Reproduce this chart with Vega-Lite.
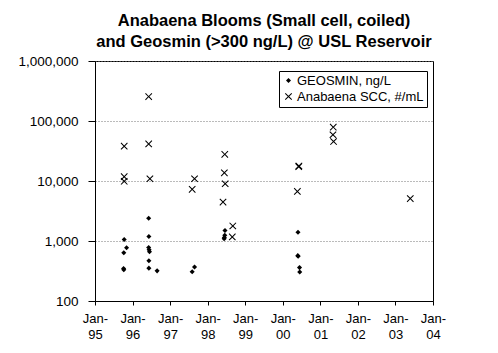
{
  "$schema": "https://vega.github.io/schema/vega-lite/v6.json",
  "autosize": {"type": "none"},
  "padding": {"left": 95, "top": 61, "right": 65, "bottom": 52},
  "width": 338,
  "height": 240,
  "background": "white",
  "title": {
    "text": ["Anabaena Blooms (Small cell, coiled)", "and Geosmin (>300 ng/L) @ USL Reservoir"],
    "font": "Liberation Sans",
    "fontSize": 16.5,
    "fontWeight": "bold",
    "color": "black",
    "lineHeight": 21,
    "offset": 4,
    "anchor": "middle"
  },
  "data": {
    "values": [
      {"date": "1995-10-12", "series": "Anabaena SCC, #/mL", "value": 38000},
      {"date": "1995-10-12", "series": "Anabaena SCC, #/mL", "value": 11800},
      {"date": "1995-10-12", "series": "Anabaena SCC, #/mL", "value": 9900},
      {"date": "1996-06-06", "series": "Anabaena SCC, #/mL", "value": 255000},
      {"date": "1996-06-06", "series": "Anabaena SCC, #/mL", "value": 41500},
      {"date": "1996-06-18", "series": "Anabaena SCC, #/mL", "value": 10900},
      {"date": "1997-08-26", "series": "Anabaena SCC, #/mL", "value": 10900},
      {"date": "1997-08-03", "series": "Anabaena SCC, #/mL", "value": 7270},
      {"date": "1998-06-16", "series": "Anabaena SCC, #/mL", "value": 27800},
      {"date": "1998-06-12", "series": "Anabaena SCC, #/mL", "value": 13700},
      {"date": "1998-06-20", "series": "Anabaena SCC, #/mL", "value": 9000},
      {"date": "1998-05-30", "series": "Anabaena SCC, #/mL", "value": 4450},
      {"date": "1998-09-02", "series": "Anabaena SCC, #/mL", "value": 1780},
      {"date": "1998-08-28", "series": "Anabaena SCC, #/mL", "value": 1170},
      {"date": "2000-06-04", "series": "Anabaena SCC, #/mL", "value": 17300},
      {"date": "2000-06-06", "series": "Anabaena SCC, #/mL", "value": 17800},
      {"date": "2000-05-22", "series": "Anabaena SCC, #/mL", "value": 6700},
      {"date": "2001-05-06", "series": "Anabaena SCC, #/mL", "value": 79000},
      {"date": "2001-05-03", "series": "Anabaena SCC, #/mL", "value": 59000},
      {"date": "2001-05-09", "series": "Anabaena SCC, #/mL", "value": 45500},
      {"date": "2003-05-25", "series": "Anabaena SCC, #/mL", "value": 5100},
      {"date": "1995-10-12", "series": "GEOSMIN, ng/L", "value": 1060},
      {"date": "1995-11-04", "series": "GEOSMIN, ng/L", "value": 773},
      {"date": "1995-10-08", "series": "GEOSMIN, ng/L", "value": 637},
      {"date": "1995-10-06", "series": "GEOSMIN, ng/L", "value": 348},
      {"date": "1995-10-08", "series": "GEOSMIN, ng/L", "value": 331},
      {"date": "1996-06-06", "series": "GEOSMIN, ng/L", "value": 2400},
      {"date": "1996-06-08", "series": "GEOSMIN, ng/L", "value": 1190},
      {"date": "1996-06-06", "series": "GEOSMIN, ng/L", "value": 782},
      {"date": "1996-06-10", "series": "GEOSMIN, ng/L", "value": 717},
      {"date": "1996-06-14", "series": "GEOSMIN, ng/L", "value": 662},
      {"date": "1996-06-08", "series": "GEOSMIN, ng/L", "value": 468},
      {"date": "1996-06-08", "series": "GEOSMIN, ng/L", "value": 353},
      {"date": "1996-08-27", "series": "GEOSMIN, ng/L", "value": 318},
      {"date": "1997-08-26", "series": "GEOSMIN, ng/L", "value": 369},
      {"date": "1997-08-03", "series": "GEOSMIN, ng/L", "value": 308},
      {"date": "1998-06-18", "series": "GEOSMIN, ng/L", "value": 1500},
      {"date": "1998-06-16", "series": "GEOSMIN, ng/L", "value": 1250},
      {"date": "1998-06-12", "series": "GEOSMIN, ng/L", "value": 1140},
      {"date": "1998-06-10", "series": "GEOSMIN, ng/L", "value": 1090},
      {"date": "2000-05-28", "series": "GEOSMIN, ng/L", "value": 1400},
      {"date": "2000-05-26", "series": "GEOSMIN, ng/L", "value": 570},
      {"date": "2000-05-30", "series": "GEOSMIN, ng/L", "value": 555},
      {"date": "2000-06-12", "series": "GEOSMIN, ng/L", "value": 360},
      {"date": "2000-06-14", "series": "GEOSMIN, ng/L", "value": 305}
    ]
  },
  "mark": {"type": "point", "filled": true, "fill": "black", "strokeWidth": 0, "opacity": 1, "size": 42},
  "encoding": {
    "x": {
      "field": "date",
      "type": "temporal",
      "scale": {
        "type": "utc",
        "domain": [
          {"year": 1995, "month": 1, "date": 1, "utc": true},
          {"year": 2004, "month": 1, "date": 1, "utc": true}
        ]
      },
      "axis": {
        "title": null,
        "values": [
          {"year": 1995, "month": 1, "date": 1, "utc": true},
          {"year": 1996, "month": 1, "date": 1, "utc": true},
          {"year": 1997, "month": 1, "date": 1, "utc": true},
          {"year": 1998, "month": 1, "date": 1, "utc": true},
          {"year": 1999, "month": 1, "date": 1, "utc": true},
          {"year": 2000, "month": 1, "date": 1, "utc": true},
          {"year": 2001, "month": 1, "date": 1, "utc": true},
          {"year": 2002, "month": 1, "date": 1, "utc": true},
          {"year": 2003, "month": 1, "date": 1, "utc": true},
          {"year": 2004, "month": 1, "date": 1, "utc": true}
        ],
        "labelExpr": "[utcFormat(datum.value, '%b-'), utcFormat(datum.value, '%y')]",
        "grid": false,
        "tickSize": 4,
        "labelPadding": 7,
        "labelFontSize": 13,
        "labelLineHeight": 16,
        "labelBaseline": "top",
        "labelOverlap": false,
        "labelFlush": false
      }
    },
    "y": {
      "field": "value",
      "type": "quantitative",
      "scale": {"type": "log", "domain": [100, 1000000], "nice": false},
      "axis": {
        "title": null,
        "values": [100, 1000, 10000, 100000, 1000000],
        "format": ",",
        "grid": true,
        "gridColor": "#777",
        "gridDash": [1, 2],
        "gridWidth": 1,
        "tickSize": 7,
        "labelPadding": 10,
        "labelFontSize": 13.5,
        "labelOverlap": false,
        "labelFlush": false
      }
    },
    "shape": {
      "field": "series",
      "type": "nominal",
      "scale": {
        "domain": ["GEOSMIN, ng/L", "Anabaena SCC, #/mL"],
        "range": [
          "M0,-0.78L0.78,0L0,0.78L-0.78,0Z",
          "M-0.884,1.11L0,0.226L0.884,1.11L1.11,0.884L0.226,0L1.11,-0.884L0.884,-1.11L0,-0.226L-0.884,-1.11L-1.11,-0.884L-0.226,0L-1.11,0.884Z"
        ]
      },
      "legend": {
        "title": null,
        "orient": "none",
        "legendX": 184,
        "legendY": 10,
        "strokeColor": "black",
        "fillColor": "white",
        "padding": 3,
        "rowPadding": 2,
        "labelFontSize": 13,
        "labelOffset": 2,
        "labelColor": "black",
        "labelFont": "Liberation Sans",
        "cornerRadius": 0,
        "symbolSize": 42,
        "symbolFillColor": "black",
        "symbolStrokeWidth": 0
      }
    }
  },
  "config": {
    "font": "Liberation Sans",
    "view": {"stroke": "black", "strokeWidth": 1},
    "axis": {
      "domainColor": "black",
      "tickColor": "black",
      "labelColor": "black",
      "labelFont": "Liberation Sans",
      "domainWidth": 1,
      "tickWidth": 1
    }
  }
}
